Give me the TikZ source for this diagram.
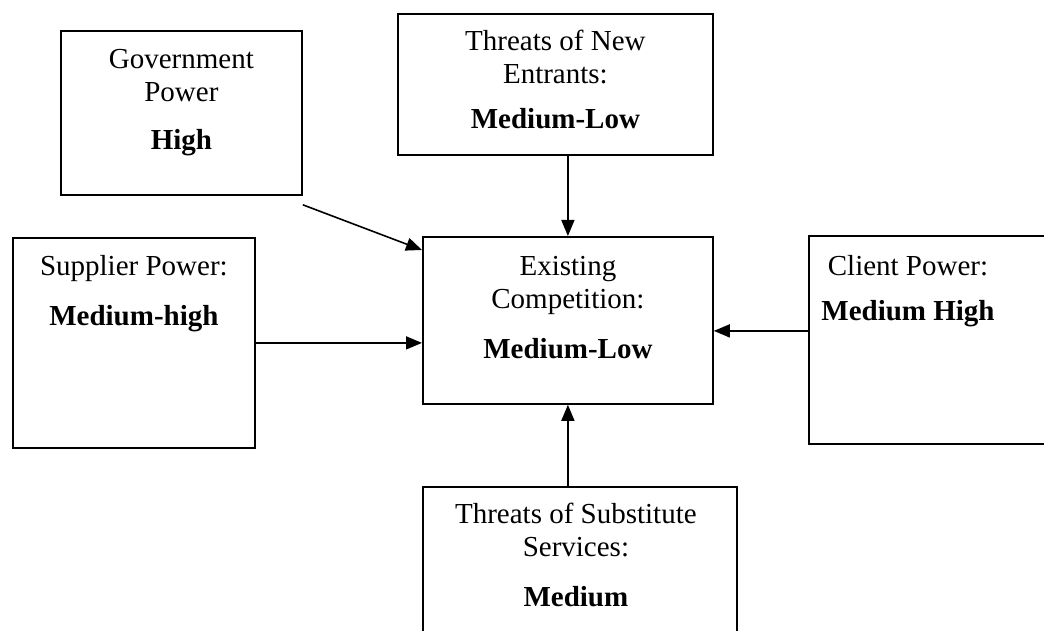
\documentclass[tikz,border=0pt]{standalone}
\usepackage{fontspec}
\setmainfont{Liberation Serif}
\usetikzlibrary{arrows.meta,calc}
\begin{document}
\begin{tikzpicture}[x=1pt,y=-1pt,
  box/.style={draw, line width=1.8pt, inner sep=0pt, anchor=north west},
  txt/.style={align=center, font=\fontsize{29}{33}\selectfont, inner sep=0pt, anchor=north},
  arr/.style={line width=1.6pt, -{Triangle[length=16pt,width=13pt]}}]
\useasboundingbox (0,0) rectangle (1044,631);
\clip (0,0) rectangle (1044,631);
% boxes
\node[box, minimum width=241pt, minimum height=164pt] (gov) at (60,30) {};
\node[box, minimum width=315pt, minimum height=141pt] (ne) at (397,13) {};
\node[box, minimum width=242pt, minimum height=210pt] (sup) at (12,237) {};
\node[box, minimum width=290pt, minimum height=167pt] (ex) at (422,236) {};
\node[box, minimum width=300pt, minimum height=208pt] (cl) at (808,235) {};
\node[box, minimum width=314pt, minimum height=200pt] (sub) at (422,486) {};
% texts
\node[txt] (govt) at ($(gov.north)+(0,15)$) {\strut Government\\Power\\[15pt]\textbf{High}};
\node[txt] (net) at ($(ne.north)+(0,14)$) {\strut Threats of New\\Entrants:\\[12pt]\textbf{Medium-Low}};
\node[txt] (supt) at ($(sup.north)+(0,15)$) {\strut Supplier Power:\\[17pt]\textbf{Medium-high}};
\node[txt] (ext) at ($(ex.north)+(0,16)$) {\strut Existing\\Competition:\\[17pt]\textbf{Medium-Low}};
\node[txt] (clt) at (908,252) {\strut Client Power:\\[12pt]\textbf{Medium High}};
\node[txt] (subt) at ($(sub.north)+(-4,14)$) {\strut Threats of Substitute\\Services:\\[17pt]\textbf{Medium}};
% connectors
\coordinate (gs) at ($(gov.south east)+(0,9)$);
\coordinate (ge) at ($(ex.north west)+(0,14)$);
\draw[arr] (gs) -- (ge);
\draw[arr] (ex.north |- ne.south) -- (ex.north);
\draw[arr] (sup.east) -- (sup.east -| ex.west);
\coordinate (cs) at ($(cl.west)+(0,-9)$);
\draw[arr] (cs) -- (cs -| ex.east);
\draw[arr] (ex.south |- sub.north) -- (ex.south);
\end{tikzpicture}
\end{document}
